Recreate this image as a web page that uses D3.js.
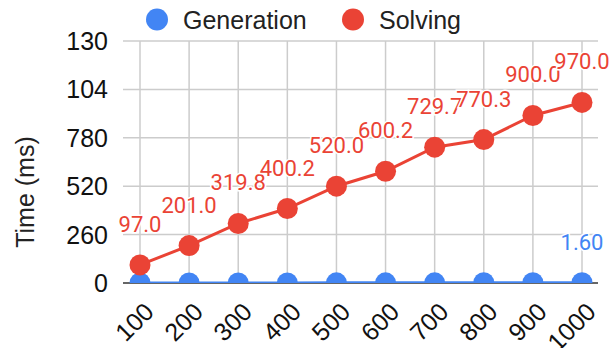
<!DOCTYPE html>
<html>
<head>
<meta charset="utf-8">
<script src="https://cdn.jsdelivr.net/npm/d3@7"></script>
<style>
  html, body { margin: 0; padding: 0; background: #fff; }
  svg { display: block; }
</style>
</head>
<body>
<svg id="chart" width="611" height="348"></svg>
<script>
// Problem sizes on the x axis
const sizes = ["100", "200", "300", "400", "500", "600", "700", "800", "900", "1000"];
// Time spent generating (ms)
const generation = [0.15, 0.3, 0.45, 0.6, 0.75, 0.9, 1.05, 1.2, 1.4, 1.60];
// Time spent solving (ms)
const solving = [97.0, 201.0, 319.8, 400.2, 520.0, 600.2, 729.7, 770.3, 900.0, 970.0];
// Y axis tick values and the labels shown for them
const yTicks = [0, 260, 520, 780, 1040, 1300];
const yTickLabels = ["0", "260", "520", "780", "104", "130"];
// Which points carry a value label
const generationLabelled = [false, false, false, false, false, false, false, false, false, true];

const BLUE = "#4285f4";
const RED = "#ea4335";
const FONT = "Liberation Sans, Arial, sans-serif";

const svg = d3.select("#chart");
const plot = { left: 123, right: 598, top: 41, bottom: 283 };

const x = d3.scalePoint().domain(sizes).range([140, 582]);
const y = d3.scaleLinear().domain([0, 1300]).range([plot.bottom, plot.top]);

// clip marks to the plot area
svg.append("defs").append("clipPath").attr("id", "plotClip")
  .append("rect")
  .attr("x", plot.left - 20).attr("y", 0)
  .attr("width", plot.right - plot.left + 40).attr("height", plot.bottom);

// horizontal grid + y tick labels
const yAxis = svg.append("g");
yAxis.selectAll("line").data(yTicks.filter(d => d > 0)).join("line")
  .attr("x1", plot.left).attr("x2", plot.right)
  .attr("y1", d => y(d)).attr("y2", d => y(d))
  .attr("stroke", "#cccccc").attr("stroke-width", 1.5);
yAxis.selectAll("text").data(yTicks).join("text")
  .attr("x", 108).attr("y", d => y(d))
  .attr("dy", "0.36em")
  .attr("text-anchor", "end")
  .attr("font-family", FONT)
  .attr("font-size", 25)
  .attr("fill", "#111")
  .text((d, i) => yTickLabels[i]);

// vertical grid
svg.append("g").selectAll("line").data(sizes).join("line")
  .attr("x1", d => x(d)).attr("x2", d => x(d))
  .attr("y1", plot.top).attr("y2", plot.bottom)
  .attr("stroke", "#cccccc").attr("stroke-width", 1.5);

// baseline
svg.append("line")
  .attr("x1", plot.left).attr("x2", plot.right)
  .attr("y1", plot.bottom).attr("y2", plot.bottom)
  .attr("stroke", "#333").attr("stroke-width", 1.5);

// x tick labels, rotated
svg.append("g").selectAll("text").data(sizes).join("text")
  .attr("transform", d => `translate(${x(d) + 9},${plot.bottom + 24}) rotate(-45)`)
  .attr("text-anchor", "end")
  .attr("dy", "0.36em")
  .attr("font-family", FONT)
  .attr("font-size", 25)
  .attr("fill", "#111")
  .text(d => d);

// y axis title
svg.append("text")
  .attr("transform", `translate(34,192) rotate(-90)`)
  .attr("text-anchor", "middle")
  .attr("font-family", FONT)
  .attr("font-size", 25)
  .attr("fill", "#222")
  .text("Time (ms)");

const line = d3.line().x((d, i) => x(sizes[i])).y(d => y(d));
const marks = svg.append("g").attr("clip-path", "url(#plotClip)");

function drawSeries(values, color) {
  marks.append("path").datum(values)
    .attr("d", line)
    .attr("fill", "none")
    .attr("stroke", color)
    .attr("stroke-width", 3);
  marks.append("g").selectAll("circle").data(values).join("circle")
    .attr("cx", (d, i) => x(sizes[i]))
    .attr("cy", d => y(d))
    .attr("r", 10.5)
    .attr("fill", color);
}
drawSeries(generation, BLUE);
drawSeries(solving, RED);

// value labels with a white halo
function drawLabels(values, color, fmt, show) {
  const items = values.map((v, i) => ({ v, i })).filter(d => show(d.i));
  svg.append("g").selectAll("text").data(items).join("text")
    .attr("x", d => x(sizes[d.i]))
    .attr("y", d => y(d.v) - 33)
    .attr("text-anchor", "middle")
    .attr("font-family", "Roboto, sans-serif")
    .attr("font-size", 22)
    .attr("fill", color)
    .attr("stroke", "#fff")
    .attr("stroke-width", 3)
    .attr("paint-order", "stroke")
    .text(d => fmt(d.v));
}
drawLabels(solving, RED, d3.format(".1f"), () => true);
drawLabels(generation, BLUE, d3.format(".2f"), i => generationLabelled[i]);

// legend
const legend = [
  { name: "Generation", color: BLUE, cx: 157, tx: 183 },
  { name: "Solving", color: RED, cx: 353, tx: 379 }
];
const lg = svg.append("g").selectAll("g").data(legend).join("g");
lg.append("circle").attr("cx", d => d.cx).attr("cy", 19.5).attr("r", 11).attr("fill", d => d.color);
lg.append("text")
  .attr("x", d => d.tx).attr("y", 28.5)
  .attr("font-family", FONT)
  .attr("font-size", 25)
  .attr("fill", "#222")
  .text(d => d.name);
</script>
</body>
</html>
